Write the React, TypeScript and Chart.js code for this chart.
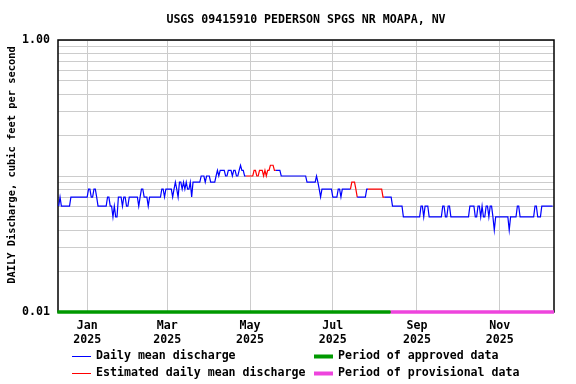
import React, { useEffect, useRef } from 'react';
import { Chart, registerables } from 'chart.js';

Chart.register(...registerables);

// ---- text ----
const titleText = 'USGS 09415910 PEDERSON SPGS NR MOAPA, NV';
const yAxisTitle = 'DAILY Discharge, cubic feet per second';
const legendLabels = [
  'Daily mean discharge',
  'Period of approved data',
  'Estimated daily mean discharge',
  'Period of provisional data',
];

// ---- x axis: day index 0 = 2024-12-11 ----
const tickDays = [21, 80, 141, 202, 264, 325];
const tickMonths = ['Jan', 'Mar', 'May', 'Jul', 'Sep', 'Nov'];
const tickYears = ['2025', '2025', '2025', '2025', '2025', '2025'];

// ---- y axis (log) ----
const yTickValues = [
  0.01, 0.02, 0.03, 0.04, 0.05, 0.06, 0.07, 0.08, 0.09,
  0.1, 0.2, 0.3, 0.4, 0.5, 0.6, 0.7, 0.8, 0.9, 1,
];

// ---- daily mean discharge, hundredths of cfs ----
const dec2024 = [6, 7, 6, 6, 6, 6, 6, 6, 6, 7, 7, 7, 7, 7, 7, 7, 7, 7, 7, 7, 7];
const jan2025 = [7, 8, 8, 7, 7, 8, 8, 7, 6, 6, 6, 6, 6, 6, 6, 7, 7, 6, 6, 5, 6, 5, 5, 7, 7, 7, 6, 7, 7, 6, 6];
const feb2025 = [7, 7, 7, 7, 7, 7, 7, 6, 7, 8, 8, 7, 7, 7, 6, 7, 7, 7, 7, 7, 7, 7, 7, 7, 8, 8, 7, 8];
const mar2025 = [8, 8, 8, 8, 7, 8, 9, 8, 7, 9, 9, 8, 9, 8, 9, 8, 8, 9, 7, 9, 9, 9, 9, 9, 9, 10, 10, 10, 9, 10, 10];
const apr2025 = [10, 9, 9, 9, 9, 10, 11, 10, 11, 11, 11, 11, 10, 10, 11, 11, 11, 10, 11, 11, 10, 10, 11, 12, 11, 11, 10, 10, 10, 10];
const may2025 = [10, 10, 10, 11, 11, 10, 10, 11, 11, 11, 10, 11, 10, 11, 11, 12, 12, 12, 11, 11, 11, 11, 11, 10, 10, 10, 10, 10, 10, 10, 10];
const jun2025 = [10, 10, 10, 10, 10, 10, 10, 10, 10, 10, 10, 9, 9, 9, 9, 9, 9, 9, 10, 9, 8, 7, 8, 8, 8, 8, 8, 8, 8, 8];
const jul2025 = [7, 7, 7, 7, 8, 8, 7, 8, 8, 8, 8, 8, 8, 8, 9, 9, 9, 8, 7, 7, 7, 7, 7, 7, 7, 8, 8, 8, 8, 8, 8];
const aug2025 = [8, 8, 8, 8, 8, 8, 7, 7, 7, 7, 7, 7, 7, 6, 6, 6, 6, 6, 6, 6, 6, 5, 5, 5, 5, 5, 5, 5, 5, 5, 5];
const sep2025 = [5, 5, 5, 6, 6, 5, 6, 6, 6, 5, 5, 5, 5, 5, 5, 5, 5, 5, 5, 6, 6, 5, 5, 6, 6, 5, 5, 5, 5, 5];
const oct2025 = [5, 5, 5, 5, 5, 5, 5, 5, 5, 6, 6, 6, 6, 5, 5, 6, 6, 5, 6, 5, 5, 6, 6, 5, 6, 6, 5, 4, 5, 5, 5];
const nov2025 = [5, 5, 5, 5, 5, 5, 5, 4, 5, 5, 5, 5, 5, 6, 6, 5, 5, 5, 5, 5, 5, 5, 5, 5, 5, 5, 6, 6, 5, 5];
const dec2025 = [5, 6, 6, 6, 6, 6, 6, 6, 6, 6];

// estimated (red) day ranges
const estimatedStart = [138, 215, 228];
const estimatedEnd = [160, 220, 240];

// approval status bar
const approvedEndDay = 244.5;
const periodStartDay = -1;
const periodEndDay = 365;

const dailyHundredths = [
  ...dec2024, ...jan2025, ...feb2025, ...mar2025, ...apr2025, ...may2025,
  ...jun2025, ...jul2025, ...aug2025, ...sep2025, ...oct2025, ...nov2025, ...dec2025,
];

const FONT_FAMILY = "'DejaVu Sans Mono', 'Liberation Mono', monospace";
const BLUE = '#0000ff';
const RED = '#ff0000';
const GREEN = '#009900';
const MAGENTA = '#ee44dd';

function isEstimatedSegment(i0: number, i1: number) {
  for (let k = 0; k < estimatedStart.length; k++) {
    if (i0 >= estimatedStart[k] && i1 <= estimatedEnd[k]) return true;
  }
  return false;
}

const decorPlugin = {
  id: 'decor',
  beforeDatasetsDraw(chart: any) {
    const { ctx, chartArea: a } = chart;
    ctx.save();
    ctx.strokeStyle = '#000000';
    ctx.lineWidth = 1.5;
    ctx.strokeRect(a.left, a.top, a.right - a.left, a.bottom - a.top);
    ctx.restore();
  },
  afterDraw(chart: any) {
    const { ctx, chartArea: a } = chart;
    ctx.save();
    ctx.fillStyle = '#000000';
    ctx.font = `bold 11.6px ${FONT_FAMILY}`;
    ctx.textAlign = 'center';
    ctx.textBaseline = 'middle';
    ctx.fillText(titleText, (a.left + a.right) / 2, 20);

    // rotated y-axis title
    ctx.save();
    ctx.translate(12, 165);
    ctx.rotate(-Math.PI / 2);
    ctx.font = `bold 10.4px ${FONT_FAMILY}`;
    ctx.fillText(yAxisTitle, 0, 0);
    ctx.restore();

    const colors = [BLUE, GREEN, RED, MAGENTA];
    const widths = [1, 4, 1, 4];
    const sampleX = [72, 314];
    const textX = [96, 338];
    const rowY = [356, 373];
    ctx.font = `bold 11.6px ${FONT_FAMILY}`;
    ctx.textAlign = 'left';
    for (let i = 0; i < legendLabels.length; i++) {
      const col = i % 2;
      const row = Math.floor(i / 2);
      const y = rowY[row];
      ctx.beginPath();
      ctx.strokeStyle = colors[i];
      ctx.lineWidth = widths[i];
      ctx.moveTo(sampleX[col], y + 0.5);
      ctx.lineTo(sampleX[col] + 19, y + 0.5);
      ctx.stroke();
      ctx.fillStyle = '#000000';
      ctx.fillText(legendLabels[i], textX[col], y);
    }
    ctx.restore();
  },
};

export default function App() {
  const ref = useRef<HTMLCanvasElement | null>(null);

  useEffect(() => {
    if (!ref.current) return;
    const font = { family: FONT_FAMILY, size: 11.6, weight: 'bold' as const, lineHeight: 1.2 };
    const discharge = dailyHundredths.map((v, i) => ({ x: i, y: v / 100 }));
    const chart = new Chart(ref.current, {
      type: 'line',
      data: {
        datasets: [
          {
            label: legendLabels[0],
            data: discharge,
            borderColor: BLUE,
            borderWidth: 1.2,
            pointRadius: 0,
            tension: 0,
            segment: {
              borderColor: (c: any) => (isEstimatedSegment(c.p0DataIndex, c.p1DataIndex) ? RED : undefined),
            },
          },
          {
            label: legendLabels[1],
            data: [
              { x: periodStartDay, y: 0.01 },
              { x: approvedEndDay, y: 0.01 },
            ],
            borderColor: GREEN,
            borderWidth: 3.5,
            pointRadius: 0,
            clip: false as any,
          },
          {
            label: legendLabels[3],
            data: [
              { x: approvedEndDay, y: 0.01 },
              { x: periodEndDay, y: 0.01 },
            ],
            borderColor: MAGENTA,
            borderWidth: 3.5,
            pointRadius: 0,
            clip: false as any,
          },
        ],
      },
      options: {
        animation: false,
        responsive: false,
        devicePixelRatio: 1,
        events: [],
        layout: { padding: { top: 40, right: 22, left: 0, bottom: 0 } },
        plugins: {
          legend: { display: false },
          title: { display: false },
          tooltip: { enabled: false },
        },
        scales: {
          x: {
            type: 'linear',
            min: -0.5,
            max: 365,
            afterBuildTicks: (s: any) => {
              s.ticks = tickDays.map((v) => ({ value: v }));
            },
            afterFit: (s: any) => {
              s.height = 72;
            },
            ticks: {
              autoSkip: false,
              maxRotation: 0,
              padding: 7,
              color: '#000000',
              font,
              callback: (_v: any, i: number) => [tickMonths[i], tickYears[i]],
            },
            grid: { color: '#cccccc', drawTicks: false },
            border: { display: false },
          },
          y: {
            type: 'logarithmic',
            min: 0.01,
            max: 1,
            afterBuildTicks: (s: any) => {
              s.ticks = yTickValues.map((v) => ({ value: v }));
            },
            afterFit: (s: any) => {
              s.width = 58;
            },
            ticks: {
              autoSkip: false,
              padding: 8,
              color: '#000000',
              font,
              callback: (v: any) => (v === 0.01 ? '0.01' : v === 1 ? '1.00' : ''),
            },
            grid: { color: '#cccccc', drawTicks: false },
            border: { display: false },
            title: { display: false },
          },
        },
      },
      plugins: [decorPlugin],
    } as any);
    return () => chart.destroy();
  }, []);

  return (
    <div style={{ position: 'fixed', left: 0, top: 0, width: 576, height: 384, background: '#ffffff' }}>
      <canvas ref={ref} width={576} height={384} style={{ display: 'block' }} />
    </div>
  );
}
